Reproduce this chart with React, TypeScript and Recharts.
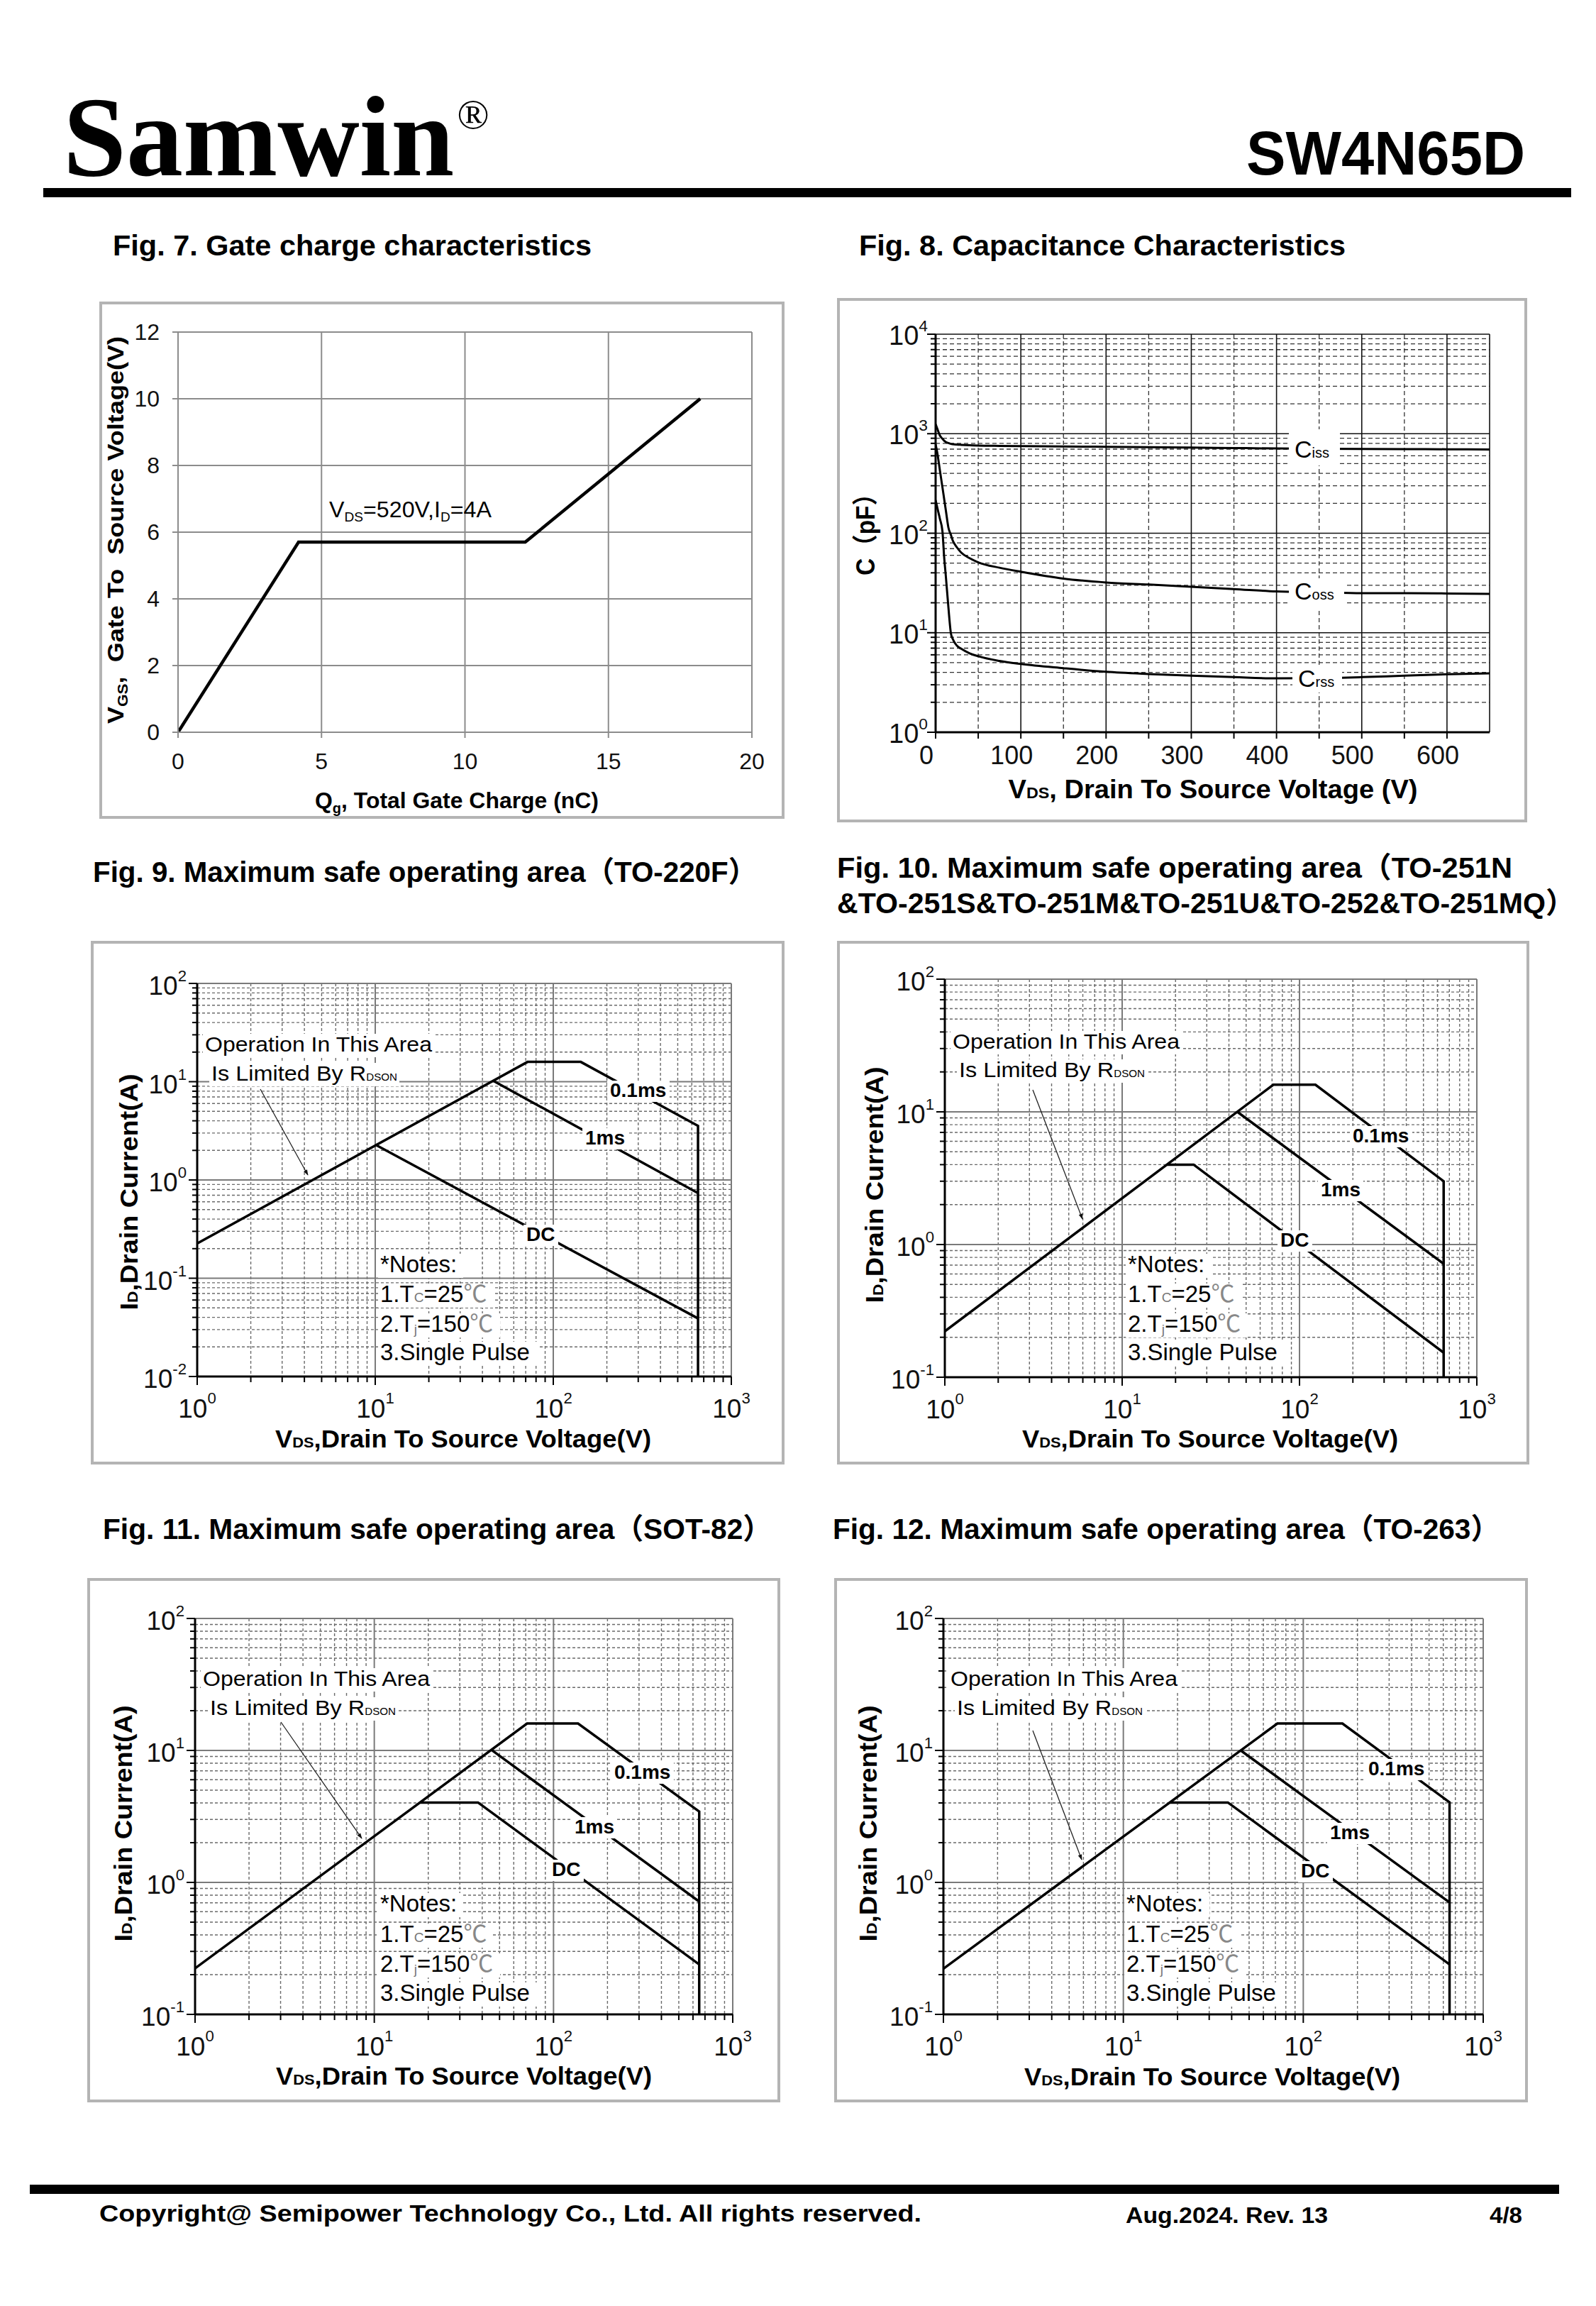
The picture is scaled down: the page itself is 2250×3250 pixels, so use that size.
import React from 'react';
import { LineChart, Line, XAxis, YAxis, CartesianGrid } from 'recharts';

const SANS = "'Liberation Sans', Arial, 'Noto Sans CJK SC', sans-serif";
const SERIF = "'Liberation Serif', 'Times New Roman', serif";

// ---------------- Fig. 7 Gate charge ----------------
const gateChargeQg = [0, 4.2, 12.1, 18.2];
const gateChargeVgs = [0, 5.7, 5.7, 10];
const gateQgTicks = [0, 5, 10, 15, 20];
const gateVgsTicks = [0, 2, 4, 6, 8, 10, 12];

// ---------------- Fig. 8 Capacitance ----------------
const capVds = [0, 2, 5, 8, 10, 12, 15, 18, 20, 25, 30, 40, 50, 75, 100, 150, 200, 250, 300, 350, 400, 450, 500, 550, 600, 650];
const cissPf = [1250, 1120, 960, 890, 850, 825, 805, 790, 785, 778, 773, 765, 760, 754, 750, 745, 738, 732, 725, 718, 710, 705, 702, 700, 698, 695];
const cossPf = [780, 640, 430, 290, 222, 170, 114, 96, 85, 72, 64, 56, 51, 45, 41, 35, 32, 30.5, 29, 27.5, 26, 25.5, 25, 25, 24.8, 24.6];
const crssPf = [215, 180, 140, 105, 58, 37, 18, 9.8, 8.7, 7.4, 6.9, 6.2, 5.8, 5.2, 4.85, 4.4, 4.05, 3.85, 3.7, 3.58, 3.48, 3.5, 3.58, 3.7, 3.82, 3.9];
const capXTicks = [0, 50, 100, 150, 200, 250, 300, 350, 400, 450, 500, 550, 600];
const capXLabels = [0, 100, 200, 300, 400, 500, 600];
const capXMajorGrid = [100, 200, 300, 400, 500, 600, 650];
const capXMinorGrid = [50, 150, 250, 350, 450, 550];
const capYDecades = [1, 10, 100, 1000, 10000];

// ---------------- SOA (Fig. 9 - 12) ----------------
const soaVdsDecades = [1, 10, 100, 1000];

const to220fLimitVds = [1, 71.7, 142.7, 650, 650];
const to220fLimitId = [0.226, 15.9, 15.9, 3.55, 0.01];
const to220f1msVds = [46, 650];
const to220f1msId = [10.2, 0.735];
const to220fDcVds = [10.1, 650];
const to220fDcId = [2.27, 0.039];

const to251LimitVds = [1, 71.2, 123, 650, 650];
const to251LimitId = [0.222, 16, 16, 3.0, 0.1];
const to2511msVds = [44.6, 650];
const to2511msId = [10, 0.716];
const to251DcVds = [17.9, 25.3, 650];
const to251DcId = [4.0, 4.0, 0.153];

const sot82LimitVds = [1, 71.2, 137, 650, 650];
const sot82LimitId = [0.223, 16, 16, 3.44, 0.1];
const sot821msVds = [45, 650];
const sot821msId = [10.1, 0.716];
const sot82DcVds = [18, 37.9, 650];
const sot82DcId = [4.03, 4.03, 0.239];

const to263LimitVds = [1, 71.8, 165, 650, 650];
const to263LimitId = [0.222, 16, 16, 4.04, 0.1];
const to2631msVds = [44.9, 650];
const to2631msId = [10, 0.705];
const to263DcVds = [18.1, 38.1, 650];
const to263DcId = [4.03, 4.03, 0.239];

// ---------------- helpers ----------------
const zip = (xs: number[], ys: number[]) => xs.map((x, i) => ({ x, y: ys[i] }));
const isDecade = (v: number) => Math.abs(Math.log10(v) - Math.round(Math.log10(v))) < 1e-9;
const logTicks = (lo: number, hi: number) => {
  const out: number[] = [];
  for (let e = lo; e < hi; e++) for (let m = 1; m < 10; m++) out.push(parseFloat((m * Math.pow(10, e)).toPrecision(6)));
  out.push(Math.pow(10, hi));
  return out;
};

type Rect = { x: number; y: number; w: number; h: number };

const LogXTick = (props: any) => {
  const { x, y, payload, fs, labelDy, supDy, color } = props;
  const v = payload.value;
  const major = isDecade(v);
  const e = Math.round(Math.log10(v));
  return (
    <g>
      <line x1={x} x2={x} y1={y} y2={y + (major ? 12 : 8)} stroke={color || '#000'} strokeWidth={2} />
      {major && (
        <text x={x} y={y + labelDy} textAnchor="middle" fontFamily={SANS} fontSize={fs} fill="#111">
          10<tspan dy={supDy} fontSize={fs * 0.6}>{e}</tspan>
        </text>
      )}
    </g>
  );
};

const LogYTick = (props: any) => {
  const { x, y, payload, fs, gap, labelDy, supDy } = props;
  const v = payload.value;
  const major = isDecade(v);
  const e = Math.round(Math.log10(v));
  return (
    <g>
      <line x1={x} x2={x - (major ? 12 : 7)} y1={y} y2={y} stroke="#000" strokeWidth={2} />
      {major && (
        <text x={x - gap} y={y + labelDy} textAnchor="end" fontFamily={SANS} fontSize={fs} fill="#111">
          10<tspan dy={supDy} fontSize={fs * 0.6}>{e}</tspan>
        </text>
      )}
    </g>
  );
};

const LinXTick = (props: any) => {
  const { x, y, payload, fs, labelDy, labelDx, labels, color, len } = props;
  const v = payload.value;
  const show = labels ? labels.includes(v) : true;
  return (
    <g>
      <line x1={x} x2={x} y1={y} y2={y + len} stroke={color} strokeWidth={2} />
      {show && (
        <text x={x + (labelDx || 0)} y={y + labelDy} textAnchor="middle" fontFamily={SANS} fontSize={fs} fill="#111">
          {v}
        </text>
      )}
    </g>
  );
};

const LinYTick = (props: any) => {
  const { x, y, payload, fs, gap, labelDy, color, len } = props;
  return (
    <g>
      <line x1={x} x2={x - len} y1={y} y2={y} stroke={color} strokeWidth={2} />
      <text x={x - gap} y={y + labelDy} textAnchor="end" fontFamily={SANS} fontSize={fs} fill="#111">
        {payload.value}
      </text>
    </g>
  );
};

const BoxFrame = ({ box }: { box: Rect }) => (
  <div
    style={{
      position: 'absolute',
      left: box.x,
      top: box.y,
      width: box.w,
      height: box.h,
      border: '4px solid #b4b4b4',
      boxSizing: 'border-box',
    }}
  />
);

function margins(box: Rect, plot: Rect) {
  return {
    margin: { top: plot.y - box.y, right: box.x + box.w - (plot.x + plot.w), left: 0, bottom: 0 },
    yw: plot.x - box.x,
    xh: box.y + box.h - (plot.y + plot.h),
  };
}

// ---------------- Fig 7 chart ----------------
function GateChargeChart() {
  const box = { x: 140, y: 425, w: 966, h: 729 };
  const plot = { x: 251, y: 468, w: 809, h: 564 };
  const m = margins(box, plot);
  const gray = '#8c8c8c';
  return (
    <div style={{ position: 'absolute', left: box.x, top: box.y }}>
      <LineChart width={box.w} height={box.h} margin={m.margin}>
        <CartesianGrid
          stroke={gray}
          strokeWidth={2}
          horizontalValues={gateVgsTicks.slice(1)}
          verticalValues={gateQgTicks.slice(1)}
        />
        <XAxis
          type="number"
          dataKey="x"
          domain={[0, 20]}
          allowDataOverflow
          ticks={gateQgTicks}
          interval={0}
          height={m.xh}
          tickSize={0}
          tickMargin={0}
          tickLine={false}
          axisLine={{ stroke: gray, strokeWidth: 2 }}
          tick={(p: any) => <LinXTick {...p} fs={32} labelDy={52} color={gray} len={8} />}
        />
        <YAxis
          type="number"
          dataKey="y"
          domain={[0, 12]}
          allowDataOverflow
          ticks={gateVgsTicks}
          interval={0}
          width={m.yw}
          tickSize={0}
          tickMargin={0}
          tickLine={false}
          axisLine={{ stroke: gray, strokeWidth: 2 }}
          tick={(p: any) => <LinYTick {...p} fs={32} gap={26} labelDy={11} color={gray} len={8} />}
        />
        <Line
          data={zip(gateChargeQg, gateChargeVgs)}
          dataKey="y"
          type="linear"
          stroke="#000"
          strokeWidth={4.5}
          dot={false}
          isAnimationActive={false}
        />
      </LineChart>
    </div>
  );
}

// ---------------- Fig 8 chart ----------------
function CapacitanceChart() {
  const box = { x: 1180, y: 420, w: 973, h: 739 };
  const plot = { x: 1319, y: 471, w: 781, h: 561 };
  const m = margins(box, plot);
  const yTicks = logTicks(0, 4);
  const yMinor = yTicks.filter((v) => !isDecade(v));
  return (
    <div style={{ position: 'absolute', left: box.x, top: box.y }}>
      <LineChart width={box.w} height={box.h} margin={m.margin}>
        <CartesianGrid
          stroke="#333"
          strokeWidth={1.3}
          strokeDasharray="6 4"
          horizontalValues={yMinor}
          verticalValues={capXMinorGrid}
        />
        <CartesianGrid stroke="#111" strokeWidth={1.6} horizontalValues={capYDecades.slice(1)} verticalValues={capXMajorGrid} />
        <XAxis
          type="number"
          dataKey="x"
          domain={[0, 650]}
          allowDataOverflow
          ticks={capXTicks}
          interval={0}
          height={m.xh}
          tickSize={0}
          tickMargin={0}
          tickLine={false}
          axisLine={{ stroke: '#000', strokeWidth: 3 }}
          tick={(p: any) => (
            <LinXTick {...p} fs={36} labelDy={45} labelDx={-13} labels={capXLabels} color="#000" len={9} />
          )}
        />
        <YAxis
          type="number"
          dataKey="y"
          scale="log"
          domain={[1, 10000]}
          allowDataOverflow
          ticks={yTicks}
          interval={0}
          width={m.yw}
          tickSize={0}
          tickMargin={0}
          tickLine={false}
          axisLine={{ stroke: '#000', strokeWidth: 3 }}
          tick={(p: any) => <LogYTick {...p} fs={38} gap={11} labelDy={15} supDy={-19} />}
        />
        <Line data={zip(capVds, cissPf)} dataKey="y" type="monotone" stroke="#000" strokeWidth={3} dot={false} isAnimationActive={false} />
        <Line data={zip(capVds, cossPf)} dataKey="y" type="monotone" stroke="#000" strokeWidth={3} dot={false} isAnimationActive={false} />
        <Line data={zip(capVds, crssPf)} dataKey="y" type="monotone" stroke="#000" strokeWidth={3} dot={false} isAnimationActive={false} />
      </LineChart>
    </div>
  );
}

// ---------------- SOA chart ----------------
function SoaChart({
  box,
  plot,
  yMinExp,
  limit,
  ms1,
  dc,
}: {
  box: Rect;
  plot: Rect;
  yMinExp: number;
  limit: { x: number; y: number }[];
  ms1: { x: number; y: number }[];
  dc: { x: number; y: number }[];
}) {
  const m = margins(box, plot);
  const xTicks = logTicks(0, 3);
  const yTicks = logTicks(yMinExp, 2);
  const xMinor = xTicks.filter((v) => !isDecade(v));
  const yMinor = yTicks.filter((v) => !isDecade(v));
  const yMajor = yTicks.filter((v) => isDecade(v)).slice(1);
  return (
    <div style={{ position: 'absolute', left: box.x, top: box.y }}>
      <LineChart width={box.w} height={box.h} margin={m.margin}>
        <CartesianGrid
          stroke="#6a6a6a"
          strokeWidth={1.4}
          strokeDasharray="4 3"
          horizontalValues={yMinor}
          verticalValues={xMinor}
        />
        <CartesianGrid stroke="#7a7a7a" strokeWidth={2} horizontalValues={yMajor} verticalValues={soaVdsDecades.slice(1)} />
        <XAxis
          type="number"
          dataKey="x"
          scale="log"
          domain={[1, 1000]}
          allowDataOverflow
          ticks={xTicks}
          interval={0}
          height={m.xh}
          tickSize={0}
          tickMargin={0}
          tickLine={false}
          axisLine={{ stroke: '#000', strokeWidth: 3 }}
          tick={(p: any) => <LogXTick {...p} fs={37} labelDy={58} supDy={-20} />}
        />
        <YAxis
          type="number"
          dataKey="y"
          scale="log"
          domain={[Math.pow(10, yMinExp), 100]}
          allowDataOverflow
          ticks={yTicks}
          interval={0}
          width={m.yw}
          tickSize={0}
          tickMargin={0}
          tickLine={false}
          axisLine={{ stroke: '#000', strokeWidth: 3 }}
          tick={(p: any) => <LogYTick {...p} fs={37} gap={15} labelDy={16} supDy={-19} />}
        />
        <Line data={limit} dataKey="y" type="linear" stroke="#000" strokeWidth={3.5} dot={false} isAnimationActive={false} />
        <Line data={ms1} dataKey="y" type="linear" stroke="#000" strokeWidth={3.5} dot={false} isAnimationActive={false} />
        <Line data={dc} dataKey="y" type="linear" stroke="#000" strokeWidth={3.5} dot={false} isAnimationActive={false} />
      </LineChart>
    </div>
  );
}

// ---------------- overlay texts ----------------
const T = (p: any) => (
  <text
    x={p.x}
    y={p.y}
    fontSize={p.size}
    fontWeight={p.bold ? 700 : 400}
    textAnchor={p.anchor || 'start'}
    fontFamily={p.family || SANS}
    fill={p.fill || '#000'}
    textLength={p.len}
    lengthAdjust={p.len ? 'spacingAndGlyphs' : undefined}
    transform={p.transform}
    style={{ whiteSpace: 'pre' }}
  >
    {p.children}
  </text>
);

type SoaCfg = {
  op1: [number, number];
  op2: [number, number];
  arrow: [number, number, number, number];
  p01: [number, number];
  ms1: [number, number];
  dc: [number, number];
  notesX: number;
  notesY: number[];
  yTitle: [number, number];
  xTitle: [number, number];
};

const SoaOverlay = ({ c, id }: { c: SoaCfg; id: string }) => (
  <g>
    <rect x={c.op1[0] - 3} y={c.op1[1] - 25} width={326} height={33} fill="#fff" />
    <T x={c.op1[0]} y={c.op1[1]} size={30} len={320}>
      Operation In This Area
    </T>
    <rect x={c.op2[0] - 3} y={c.op2[1] - 25} width={268} height={33} fill="#fff" />
    <T x={c.op2[0]} y={c.op2[1]} size={30} len={262}>
      Is Limited By R<tspan fontSize={14}>DSON</tspan>
    </T>
    <line
      x1={c.arrow[0]}
      y1={c.arrow[1]}
      x2={c.arrow[2]}
      y2={c.arrow[3]}
      stroke="#222"
      strokeWidth={1.3}
      markerEnd={`url(#arrow-${id})`}
    />
    <defs>
      <marker id={`arrow-${id}`} viewBox="0 0 10 10" refX="9" refY="5" markerWidth="14" markerHeight="8" orient="auto" markerUnits="userSpaceOnUse">
        <path d="M0,1.5 L10,5 L0,8.5 z" fill="#111" />
      </marker>
    </defs>
    <rect x={c.p01[0] - 4} y={c.p01[1] - 23} width={88} height={30} fill="#fff" />
    <T x={c.p01[0]} y={c.p01[1]} size={28} bold>
      0.1ms
    </T>
    <rect x={c.ms1[0] - 4} y={c.ms1[1] - 23} width={64} height={30} fill="#fff" />
    <T x={c.ms1[0]} y={c.ms1[1]} size={28} bold>
      1ms
    </T>
    <rect x={c.dc[0] - 4} y={c.dc[1] - 23} width={49} height={30} fill="#fff" />
    <T x={c.dc[0]} y={c.dc[1]} size={28} bold>
      DC
    </T>
    <rect x={c.notesX - 3} y={c.notesY[0] - 26} width={120} height={34} fill="#fff" />
    <T x={c.notesX} y={c.notesY[0]} size={33}>
      *Notes:
    </T>
    <rect x={c.notesX - 3} y={c.notesY[1] - 26} width={162} height={34} fill="#fff" />
    <T x={c.notesX} y={c.notesY[1]} size={33}>
      1.T<tspan fontSize={19} fill="#777">C</tspan>=25<tspan fill="#888">℃</tspan>
    </T>
    <rect x={c.notesX - 3} y={c.notesY[2] - 26} width={172} height={34} fill="#fff" />
    <T x={c.notesX} y={c.notesY[2]} size={33}>
      2.T<tspan fontSize={19} fill="#777" dy={3}>j</tspan>
      <tspan dy={-3}>=150</tspan>
      <tspan fill="#888">℃</tspan>
    </T>
    <rect x={c.notesX - 3} y={c.notesY[3] - 26} width={226} height={34} fill="#fff" />
    <T x={c.notesX} y={c.notesY[3]} size={33}>
      3.Single Pulse
    </T>
    <T x={0} y={0} size={35} bold anchor="middle" len={333} transform={`translate(${c.yTitle[0]},${c.yTitle[1]}) rotate(-90)`}>
      I<tspan fontSize={21}>D</tspan>,Drain Current(A)
    </T>
    <T x={c.xTitle[0]} y={c.xTitle[1]} size={35} bold anchor="middle" len={530}>
      V<tspan fontSize={21}>DS</tspan>,Drain To Source Voltage(V)
    </T>
  </g>
);

const fig9Cfg: SoaCfg = {
  op1: [289, 1482],
  op2: [298, 1523],
  arrow: [367, 1535, 434, 1656],
  p01: [860, 1546],
  ms1: [825, 1613],
  dc: [742, 1749],
  notesX: 536,
  notesY: [1793, 1835, 1877, 1917],
  yTitle: [194, 1680],
  xTitle: [653, 2040],
};
const fig10Cfg: SoaCfg = {
  op1: [1343, 1478],
  op2: [1352, 1518],
  arrow: [1456, 1536, 1526, 1718],
  p01: [1907, 1610],
  ms1: [1862, 1686],
  dc: [1805, 1757],
  notesX: 1590,
  notesY: [1793, 1835, 1877, 1917],
  yTitle: [1245, 1670],
  xTitle: [1706, 2040],
};
const fig11Cfg: SoaCfg = {
  op1: [286, 2376],
  op2: [296, 2417],
  arrow: [396, 2427, 510, 2591],
  p01: [866, 2507],
  ms1: [810, 2584],
  dc: [778, 2644],
  notesX: 536,
  notesY: [2694, 2737, 2779, 2820],
  yTitle: [186, 2570],
  xTitle: [654, 2938],
};
const fig12Cfg: SoaCfg = {
  op1: [1340, 2376],
  op2: [1349, 2417],
  arrow: [1456, 2439, 1525, 2621],
  p01: [1929, 2502],
  ms1: [1875, 2592],
  dc: [1834, 2646],
  notesX: 1588,
  notesY: [2694, 2737, 2779, 2820],
  yTitle: [1236, 2570],
  xTitle: [1709, 2939],
};

export default function App() {
  const box9 = { x: 128, y: 1326, w: 978, h: 738 };
  const plot9 = { x: 278, y: 1386, w: 753, h: 554 };
  const box10 = { x: 1180, y: 1326, w: 976, h: 738 };
  const plot10 = { x: 1332, y: 1380, w: 750, h: 561 };
  const box11 = { x: 123, y: 2224, w: 977, h: 739 };
  const plot11 = { x: 275, y: 2281, w: 758, h: 558 };
  const box12 = { x: 1176, y: 2224, w: 978, h: 739 };
  const plot12 = { x: 1330, y: 2281, w: 761, h: 558 };

  return (
    <div style={{ position: 'relative', width: 2250, height: 3250, background: '#fff', overflow: 'hidden' }}>
      <style>{'html,body{margin:0;padding:0;background:#fff}'}</style>

      <BoxFrame box={{ x: 140, y: 425, w: 966, h: 729 }} />
      <BoxFrame box={{ x: 1180, y: 420, w: 973, h: 739 }} />
      <BoxFrame box={box9} />
      <BoxFrame box={box10} />
      <BoxFrame box={box11} />
      <BoxFrame box={box12} />

      <GateChargeChart />
      <CapacitanceChart />
      <SoaChart box={box9} plot={plot9} yMinExp={-2} limit={zip(to220fLimitVds, to220fLimitId)} ms1={zip(to220f1msVds, to220f1msId)} dc={zip(to220fDcVds, to220fDcId)} />
      <SoaChart box={box10} plot={plot10} yMinExp={-1} limit={zip(to251LimitVds, to251LimitId)} ms1={zip(to2511msVds, to2511msId)} dc={zip(to251DcVds, to251DcId)} />
      <SoaChart box={box11} plot={plot11} yMinExp={-1} limit={zip(sot82LimitVds, sot82LimitId)} ms1={zip(sot821msVds, sot821msId)} dc={zip(sot82DcVds, sot82DcId)} />
      <SoaChart box={box12} plot={plot12} yMinExp={-1} limit={zip(to263LimitVds, to263LimitId)} ms1={zip(to2631msVds, to2631msId)} dc={zip(to263DcVds, to263DcId)} />

      <svg width={2250} height={3250} style={{ position: 'absolute', left: 0, top: 0, pointerEvents: 'none' }}>
        {/* header */}
        <T x={89} y={247} size={160} bold family={SERIF}>
          Samwin
          <tspan dx={4} dy={-66} fontSize={60} fontWeight={400}>
            ®
          </tspan>
        </T>
        <T x={1757} y={246} size={88} bold len={393}>
          SW4N65D
        </T>
        <rect x={61} y={265} width={2154} height={13} fill="#000" />

        {/* figure titles */}
        <T x={159} y={360} size={41} bold len={675}>
          Fig. 7. Gate charge characteristics
        </T>
        <T x={1211} y={360} size={41} bold len={686}>
          Fig. 8. Capacitance Characteristics
        </T>
        <T x={131} y={1243} size={41} bold len={936}>
          Fig. 9. Maximum safe operating area（TO-220F）
        </T>
        <T x={1180} y={1237} size={41} bold len={952}>
          Fig. 10. Maximum safe operating area（TO-251N
        </T>
        <T x={1180} y={1287} size={41} bold len={1040}>
          &amp;TO-251S&amp;TO-251M&amp;TO-251U&amp;TO-252&amp;TO-251MQ）
        </T>
        <T x={145} y={2169} size={41} bold len={943}>
          Fig. 11. Maximum safe operating area（SOT-82）
        </T>
        <T x={1174} y={2169} size={41} bold len={940}>
          Fig. 12. Maximum safe operating area（TO-263）
        </T>

        {/* Fig 7 texts */}
        <T x={464} y={729} size={32} len={229}>
          V<tspan fontSize={19} dy={6}>DS</tspan>
          <tspan dy={-6}>=520V,I</tspan>
          <tspan fontSize={19} dy={6}>D</tspan>
          <tspan dy={-6}>=4A</tspan>
        </T>
        <T x={0} y={0} size={32} bold anchor="middle" len={546} transform="translate(174,747) rotate(-90)">
          V<tspan fontSize={20} dy={6}>GS</tspan>
          <tspan dy={-6}>,  Gate To  Source Voltage(V)</tspan>
        </T>
        <T x={644} y={1139} size={32} bold anchor="middle" len={400}>
          Q<tspan fontSize={20} dy={7}>g</tspan>
          <tspan dy={-7}>, Total Gate Charge (nC)</tspan>
        </T>

        {/* Fig 8 texts */}
        <rect x={1817} y={605} width={72} height={51} fill="#fff" />
        <T x={1825} y={645} size={34}>
          C<tspan fontSize={20}>iss</tspan>
        </T>
        <rect x={1817} y={815} width={78} height={42} fill="#fff" />
        <T x={1825} y={845} size={34}>
          C<tspan fontSize={20}>oss</tspan>
        </T>
        <rect x={1822} y={938} width={70} height={38} fill="#fff" />
        <T x={1830} y={968} size={34}>
          C<tspan fontSize={20}>rss</tspan>
        </T>
        <T x={0} y={0} size={36} bold anchor="middle" len={132} transform="translate(1233,745) rotate(-90)">
          C（pF）
        </T>
        <T x={1710} y={1125} size={36} bold anchor="middle" len={577}>
          V<tspan fontSize={22}>DS</tspan>, Drain To Source Voltage (V)
        </T>

        {/* SOA overlays */}
        <SoaOverlay c={fig9Cfg} id="f9" />
        <SoaOverlay c={fig10Cfg} id="f10" />
        <SoaOverlay c={fig11Cfg} id="f11" />
        <SoaOverlay c={fig12Cfg} id="f12" />

        {/* footer */}
        <rect x={42} y={3079} width={2156} height={13} fill="#000" />
        <T x={140} y={3131} size={34} bold len={1159}>
          Copyright@ Semipower Technology Co., Ltd. All rights reserved.
        </T>
        <T x={1587} y={3133} size={31} bold len={285}>
          Aug.2024. Rev. 13
        </T>
        <T x={2100} y={3133} size={31} bold len={46}>
          4/8
        </T>
      </svg>
    </div>
  );
}
